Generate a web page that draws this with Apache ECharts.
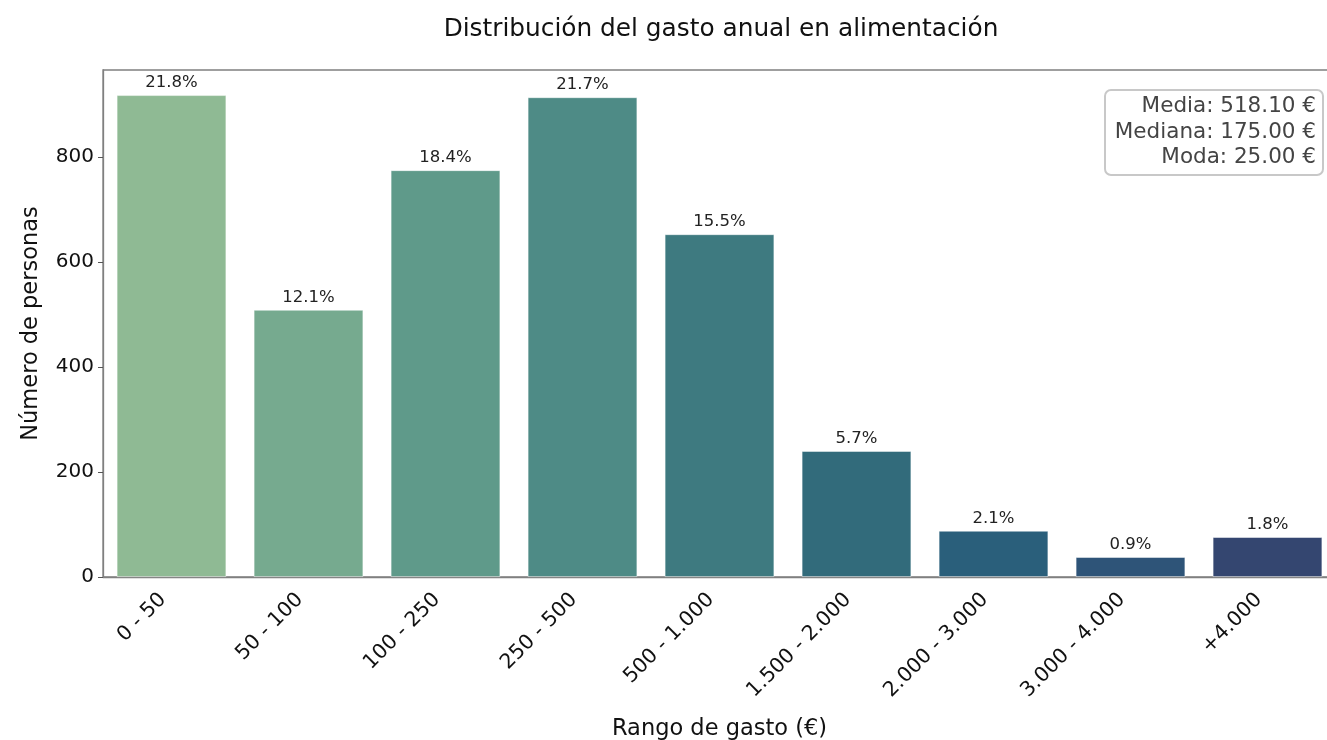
<!DOCTYPE html>
<html>
<head>
<meta charset="utf-8">
<script src="https://cdn.jsdelivr.net/npm/echarts@6/dist/echarts.min.js"></script>
<style>
  html, body { margin: 0; padding: 0; background: #fff; }
  #chart { width: 1327px; height: 740px; }
</style>
</head>
<body>
<div id="chart"></div>
<script>
// Datos
var rangos = ['0 - 50', '50 - 100', '100 - 250', '250 - 500', '500 - 1.000', '1.500 - 2.000', '2.000 - 3.000', '3.000 - 4.000', '+4.000'];
var personas = [918, 509, 775, 914, 653, 240, 88, 38, 76];
var porcentajes = [21.8, 12.1, 18.4, 21.7, 15.5, 5.7, 2.1, 0.9, 1.8];
var colores = ['#8fba94', '#76aa8f', '#5f9a8a', '#4e8b86', '#3e7a80', '#326b7b', '#2a5f7b', '#2e5478', '#344670'];
var yTicks = [0, 200, 400, 600, 800];
var estadisticas = ['Media: 518.10 €', 'Mediana: 175.00 €', 'Moda: 25.00 €'];

var font = 'DejaVu Sans';
var chart = echarts.init(document.getElementById('chart'));

var option = {
  backgroundColor: '#fff',
  animation: false,
  title: {
    text: 'Distribución del gasto anual en alimentación',
    left: 716,
    textAlign: 'center',
    top: 12,
    textStyle: { fontFamily: font, fontSize: 24.8, fontWeight: 'normal', color: '#111' }
  },
  grid: {
    left: 103,
    top: 70,
    right: -9,
    bottom: 163,
    outerBoundsMode: 'none',
    containLabel: false,
    show: true,
    borderColor: '#808080',
    borderWidth: 1.3
  },
  xAxis: {
    type: 'category',
    data: rangos,
    name: 'Rango de gasto (€)',
    nameLocation: 'middle',
    nameGap: 141,
    nameTextStyle: { fontFamily: font, fontSize: 22.5, color: '#111' },
    axisLine: { lineStyle: { color: '#808080', width: 1.3 } },
    axisTick: { alignWithLabel: true, length: 5, lineStyle: { color: '#555' } },
    axisLabel: {
      rotate: 45,
      interval: 0,
      margin: 11,
      padding: [0, 12, 0, 0],
      fontFamily: font,
      fontSize: 20.5,
      color: '#111'
    }
  },
  yAxis: {
    type: 'value',
    min: 0,
    max: 966,
    interval: 200,
    name: 'Número de personas',
    nameLocation: 'middle',
    nameGap: 60,
    nameTextStyle: { fontFamily: font, fontSize: 22.5, color: '#111' },
    splitLine: { show: false },
    axisLine: { show: true, lineStyle: { color: '#808080', width: 1.3 } },
    axisTick: { show: true, length: 5, customValues: yTicks, lineStyle: { color: '#555' } },
    axisLabel: { customValues: yTicks, margin: 9, fontFamily: font, fontSize: 20, color: '#111' }
  },
  series: [{
    type: 'bar',
    data: personas.map(function (v, i) {
      return { value: v, itemStyle: { color: colores[i] } };
    }),
    barCategoryGap: '20%',
    itemStyle: { borderColor: 'rgba(255,255,255,0.6)', borderWidth: 0.8 },
    label: {
      show: true,
      position: 'top',
      distance: 4,
      fontFamily: font,
      fontSize: 16.5,
      color: '#222',
      formatter: function (p) { return porcentajes[p.dataIndex].toFixed(1) + '%'; }
    }
  }],
  graphic: [{
    type: 'group',
    left: 1104,
    top: 89,
    children: [{
      type: 'rect',
      shape: { x: 0, y: 0, width: 218, height: 85, r: 6 },
      style: { fill: '#fff', stroke: '#c8c8c8', lineWidth: 2 }
    }, {
      type: 'text',
      x: 211,
      y: 4,
      style: {
        text: estadisticas.join('\n'),
        align: 'right',
        fontFamily: font,
        fontSize: 21.5,
        lineHeight: 25.5,
        fill: '#444'
      }
    }]
  }]
};
chart.setOption(option);
</script>
</body>
</html>
